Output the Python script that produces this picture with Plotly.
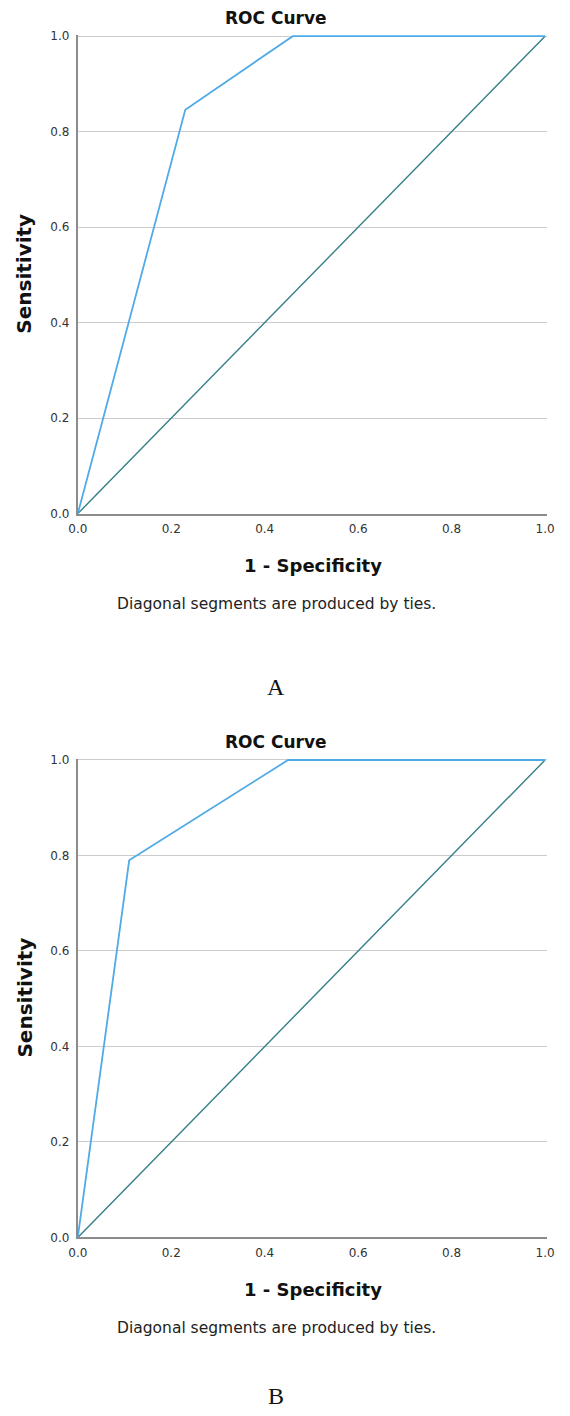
import plotly.graph_objects as go

# Data
fpr_a = [0.0, 0.23, 0.46, 1.0]
tpr_a = [0.0, 0.846, 1.0, 1.0]
fpr_b = [0.0, 0.11, 0.45, 1.0]
tpr_b = [0.0, 0.79, 1.0, 1.0]
ref_x = [0.0, 1.0]
ref_y = [0.0, 1.0]
tick_vals = [0.0, 0.2, 0.4, 0.6, 0.8, 1.0]
tick_text = ["0.0", "0.2", "0.4", "0.6", "0.8", "1.0"]
panel_labels = ["A", "B"]

W, H = 570, 1416
ROC_COLOR = "#50aae6"
REF_COLOR = "#347f86"
FONT = "DejaVu Sans"

def py(px):
    return 1 - px / H

def pxx(px):
    return px / W

x0, x1 = 70 / W, 554 / W
panels = [
    dict(top=30, bottom=513, fx=fpr_a, fy=tpr_a, lab=688),
    dict(top=760, bottom=1243, fx=fpr_b, fy=tpr_b, lab=1403),
]

fig = go.Figure()
annotations = []
for i, p in enumerate(panels):
    n = "" if i == 0 else str(i + 1)
    xa, ya = "x" + n, "y" + n
    fig.add_trace(go.Scatter(x=ref_x, y=ref_y, mode="lines", xaxis=xa, yaxis=ya,
                             line=dict(color=REF_COLOR, width=1.4), showlegend=False))
    fig.add_trace(go.Scatter(x=p["fx"], y=p["fy"], mode="lines", xaxis=xa, yaxis=ya,
                             line=dict(color=ROC_COLOR, width=1.8), showlegend=False))
    fig.layout["xaxis" + n] = dict(
        domain=[x0, x1], anchor=ya, range=[0, 1.003], tickvals=tick_vals, ticktext=tick_text,
        showgrid=False, zeroline=False, showline=True, linecolor="#8c8c8c", linewidth=2,
        ticks="", tickfont=dict(family=FONT, size=12, color="#333"), ticklabelstandoff=3,
    )
    fig.layout["yaxis" + n] = dict(
        domain=[py(p["bottom"]), py(p["top"])], anchor=xa, range=[0, 1.003],
        tickvals=tick_vals, ticktext=tick_text,
        showgrid=True, gridcolor="#cccccc", gridwidth=1.2, zeroline=False,
        showline=True, linecolor="#8c8c8c", linewidth=2,
        ticks="", tickfont=dict(family=FONT, size=12, color="#333"), ticklabelstandoff=4,
    )
    common = dict(xref="paper", yref="paper", showarrow=False, xanchor="center", yanchor="middle")
    annotations += [
        dict(text="<b>ROC Curve</b>", x=pxx(275), y=py(p["top"] - 17),
             font=dict(family=FONT, size=17, color="#111"), **common),
        dict(text="<b>1 - Specificity</b>", x=pxx(313), y=py(p["bottom"] + 52),
             font=dict(family=FONT, size=18, color="#111"), **common),
        dict(text="<b>Sensitivity</b>", x=pxx(15), y=py((p["top"] + p["bottom"]) / 2),
             textangle=-90, font=dict(family=FONT, size=20, color="#111"), **common),
        dict(text="Diagonal segments are produced by ties.", x=pxx(275), y=py(p["bottom"] + 91),
             font=dict(family=FONT, size=15.5, color="#222"), **common),
        dict(text=panel_labels[i], x=pxx(275), y=py(p["lab"]),
             font=dict(family="Liberation Serif", size=24, color="#111"), **common),
    ]

fig.update_layout(width=W, height=H, margin=dict(l=0, r=0, t=0, b=0),
                  plot_bgcolor="white", paper_bgcolor="white", annotations=annotations)
fig.write_html("out.html")
